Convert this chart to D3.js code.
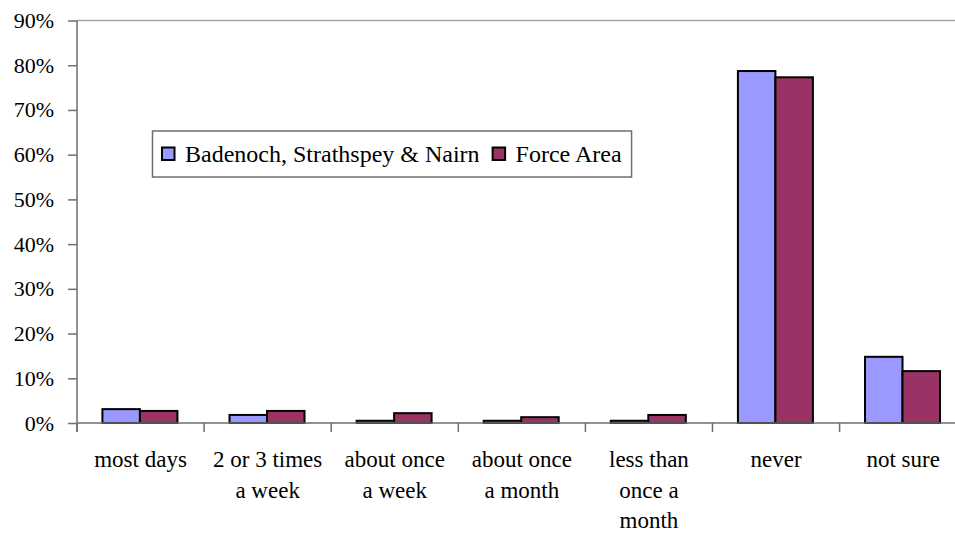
<!DOCTYPE html>
<html><head><meta charset="utf-8"><script src="https://cdn.jsdelivr.net/npm/d3@7"></script></head>
<body style="margin:0">
<script>
// data
var categories = ["most days", "2 or 3 times a week", "about once a week", "about once a month", "less than once a month", "never", "not sure"];
var catLines = [["most days"], ["2 or 3 times", "a week"], ["about once", "a week"], ["about once", "a month"], ["less than", "once a", "month"], ["never"], ["not sure"]];
var series = ["Badenoch, Strathspey & Nairn", "Force Area"];
var badenoch = [3.1, 1.8, 0.5, 0.5, 0.5, 78.7, 14.8];
var forceArea = [2.7, 2.7, 2.2, 1.3, 1.8, 77.3, 11.6];
var yTicks = [0, 10, 20, 30, 40, 50, 60, 70, 80, 90];
var colors = ["#9999FF", "#993366"];

var serifFont = "Times New Roman";
var width = 955, height = 533;
var margin = { top: 20.5, left: 77 };
var plotRight = 77 + 7 * 127.1;

var rows = categories.map(function (c, i) {
  return { cat: c, lines: catLines[i], vals: [badenoch[i], forceArea[i]] };
});

var svg = d3.select("body").append("svg")
  .attr("width", width)
  .attr("height", height);

var x = d3.scaleBand()
  .domain(categories)
  .range([margin.left, plotRight])
  .padding(0);

var x1 = d3.scaleBand()
  .domain(series)
  .range([x.bandwidth() * 0.2, x.bandwidth() * 0.79]);

var y = d3.scaleLinear()
  .domain([0, 90])
  .range([423, margin.top]);

// top border of plot area
svg.append("line")
  .attr("x1", margin.left).attr("x2", plotRight)
  .attr("y1", y(90)).attr("y2", y(90))
  .attr("stroke", "#a6a6a6").attr("stroke-width", 1.5);

// bars
var groups = svg.append("g").selectAll("g")
  .data(rows)
  .join("g")
  .attr("transform", function (d) { return "translate(" + x(d.cat) + ",0)"; });

groups.selectAll("rect")
  .data(function (d) { return d.vals.map(function (v, i) { return { s: series[i], v: v, i: i }; }); })
  .join("rect")
  .attr("x", function (d) { return x1(d.s); })
  .attr("width", x1.bandwidth())
  .attr("y", function (d) { return y(d.v); })
  .attr("height", function (d) { return y(0) - y(d.v); })
  .attr("fill", function (d) { return colors[d.i]; })
  .attr("stroke", "#000")
  .attr("stroke-width", 2);

// y axis: ticks with the axis, labels as own texts
var yAxis = svg.append("g")
  .attr("transform", "translate(" + margin.left + ",0)")
  .call(d3.axisLeft(y).tickValues(yTicks).tickSize(9).tickFormat(""));
yAxis.select(".domain").attr("stroke", "#6e6e6e").attr("stroke-width", 1.5)
  .attr("d", "M0," + y(90) + "V432");
yAxis.selectAll(".tick line").attr("stroke", "#6e6e6e").attr("stroke-width", 1.5);

yTicks.forEach(function (t) {
  svg.append("text")
    .attr("x", margin.left - 23).attr("y", y(t) + 7.5)
    .attr("text-anchor", "end")
    .style("font-family", serifFont)
    .attr("font-size", 22)
    .text(t + "%");
});

// x axis
svg.append("line")
  .attr("x1", margin.left).attr("x2", plotRight)
  .attr("y1", y(0)).attr("y2", y(0))
  .attr("stroke", "#6e6e6e").attr("stroke-width", 1.5);

categories.forEach(function (c) {
  svg.append("line")
    .attr("x1", x(c)).attr("x2", x(c))
    .attr("y1", y(0)).attr("y2", y(0) + 9)
    .attr("stroke", "#6e6e6e").attr("stroke-width", 1.5);
});

rows.forEach(function (r) {
  r.lines.forEach(function (l, j) {
    svg.append("text")
      .attr("x", x(r.cat) + x.bandwidth() / 2)
      .attr("y", 467 + j * 30.5)
      .attr("text-anchor", "middle")
      .style("font-family", serifFont)
      .attr("font-size", 23)
      .text(l);
  });
});

// legend, box sized to its texts
var legBox = svg.append("rect")
  .attr("x", 152.5).attr("y", 131)
  .attr("height", 46)
  .attr("fill", "#fff")
  .attr("stroke", "#6e6e6e")
  .attr("stroke-width", 1.5);

var lx = 162;
series.forEach(function (s, i) {
  svg.append("rect")
    .attr("x", lx).attr("y", 147.5)
    .attr("width", 12.5).attr("height", 12.5)
    .attr("fill", colors[i])
    .attr("stroke", "#000").attr("stroke-width", 2);
  var t = svg.append("text")
    .attr("x", lx + 23).attr("y", 162)
    .style("font-family", serifFont)
    .attr("font-size", 24)
    .text(s);
  lx += 23 + t.node().getComputedTextLength() + 13;
});
legBox.attr("width", lx - 152.5 - 3);
</script>
</body></html>
